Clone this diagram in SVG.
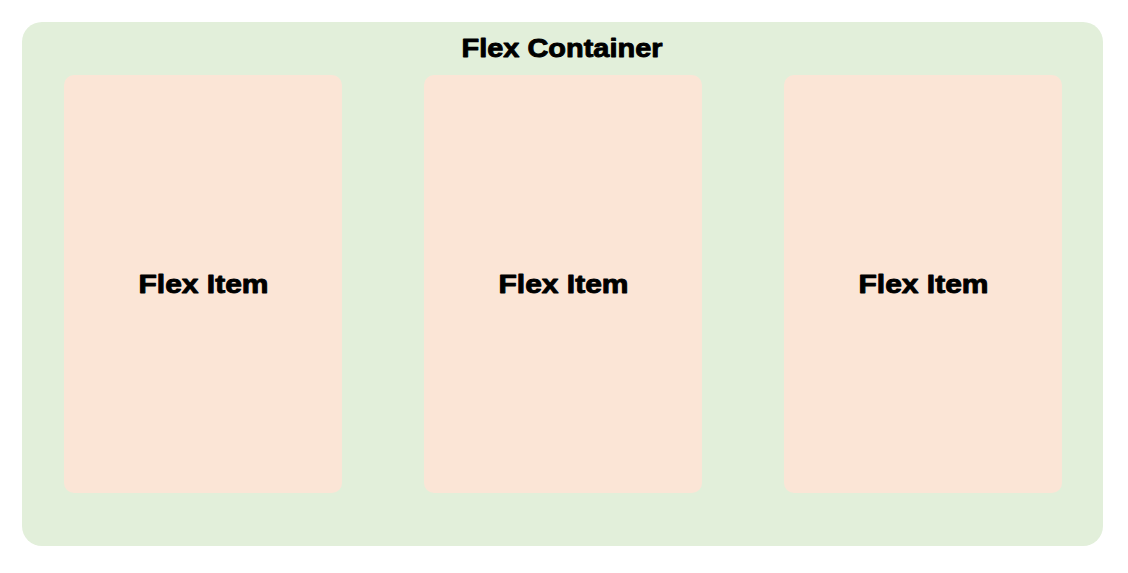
<svg xmlns="http://www.w3.org/2000/svg" width="1128" height="573" viewBox="0 0 1128 573">
  <style>
    .container { fill: #E2EFDA; }
    .item { fill: #FBE5D6; }
    .label { font-family: "Liberation Sans", Arial, sans-serif; font-weight: bold; fill: #000; stroke: #000; stroke-width: 0.9; stroke-linejoin: round; text-anchor: middle; }
  </style>
  <rect width="1128" height="573" fill="#FFFFFF"/>
  <g id="flex-container">
    <rect class="container" x="22" y="22" width="1081" height="524" rx="20" ry="20"/>
    <text class="label" x="562" y="57" font-size="25.5" textLength="201" lengthAdjust="spacingAndGlyphs">Flex Container</text>
  </g>
  <g id="flex-item-1">
    <rect class="item" x="64" y="75" width="278" height="418" rx="10" ry="10"/>
    <text class="label" x="203.5" y="293" font-size="25" textLength="130" lengthAdjust="spacingAndGlyphs">Flex Item</text>
  </g>
  <g id="flex-item-2">
    <rect class="item" x="424" y="75" width="278" height="418" rx="10" ry="10"/>
    <text class="label" x="563.5" y="293" font-size="25" textLength="130" lengthAdjust="spacingAndGlyphs">Flex Item</text>
  </g>
  <g id="flex-item-3">
    <rect class="item" x="784" y="75" width="278" height="418" rx="10" ry="10"/>
    <text class="label" x="923.5" y="293" font-size="25" textLength="130" lengthAdjust="spacingAndGlyphs">Flex Item</text>
  </g>
  <g id="connectors"></g>
</svg>
